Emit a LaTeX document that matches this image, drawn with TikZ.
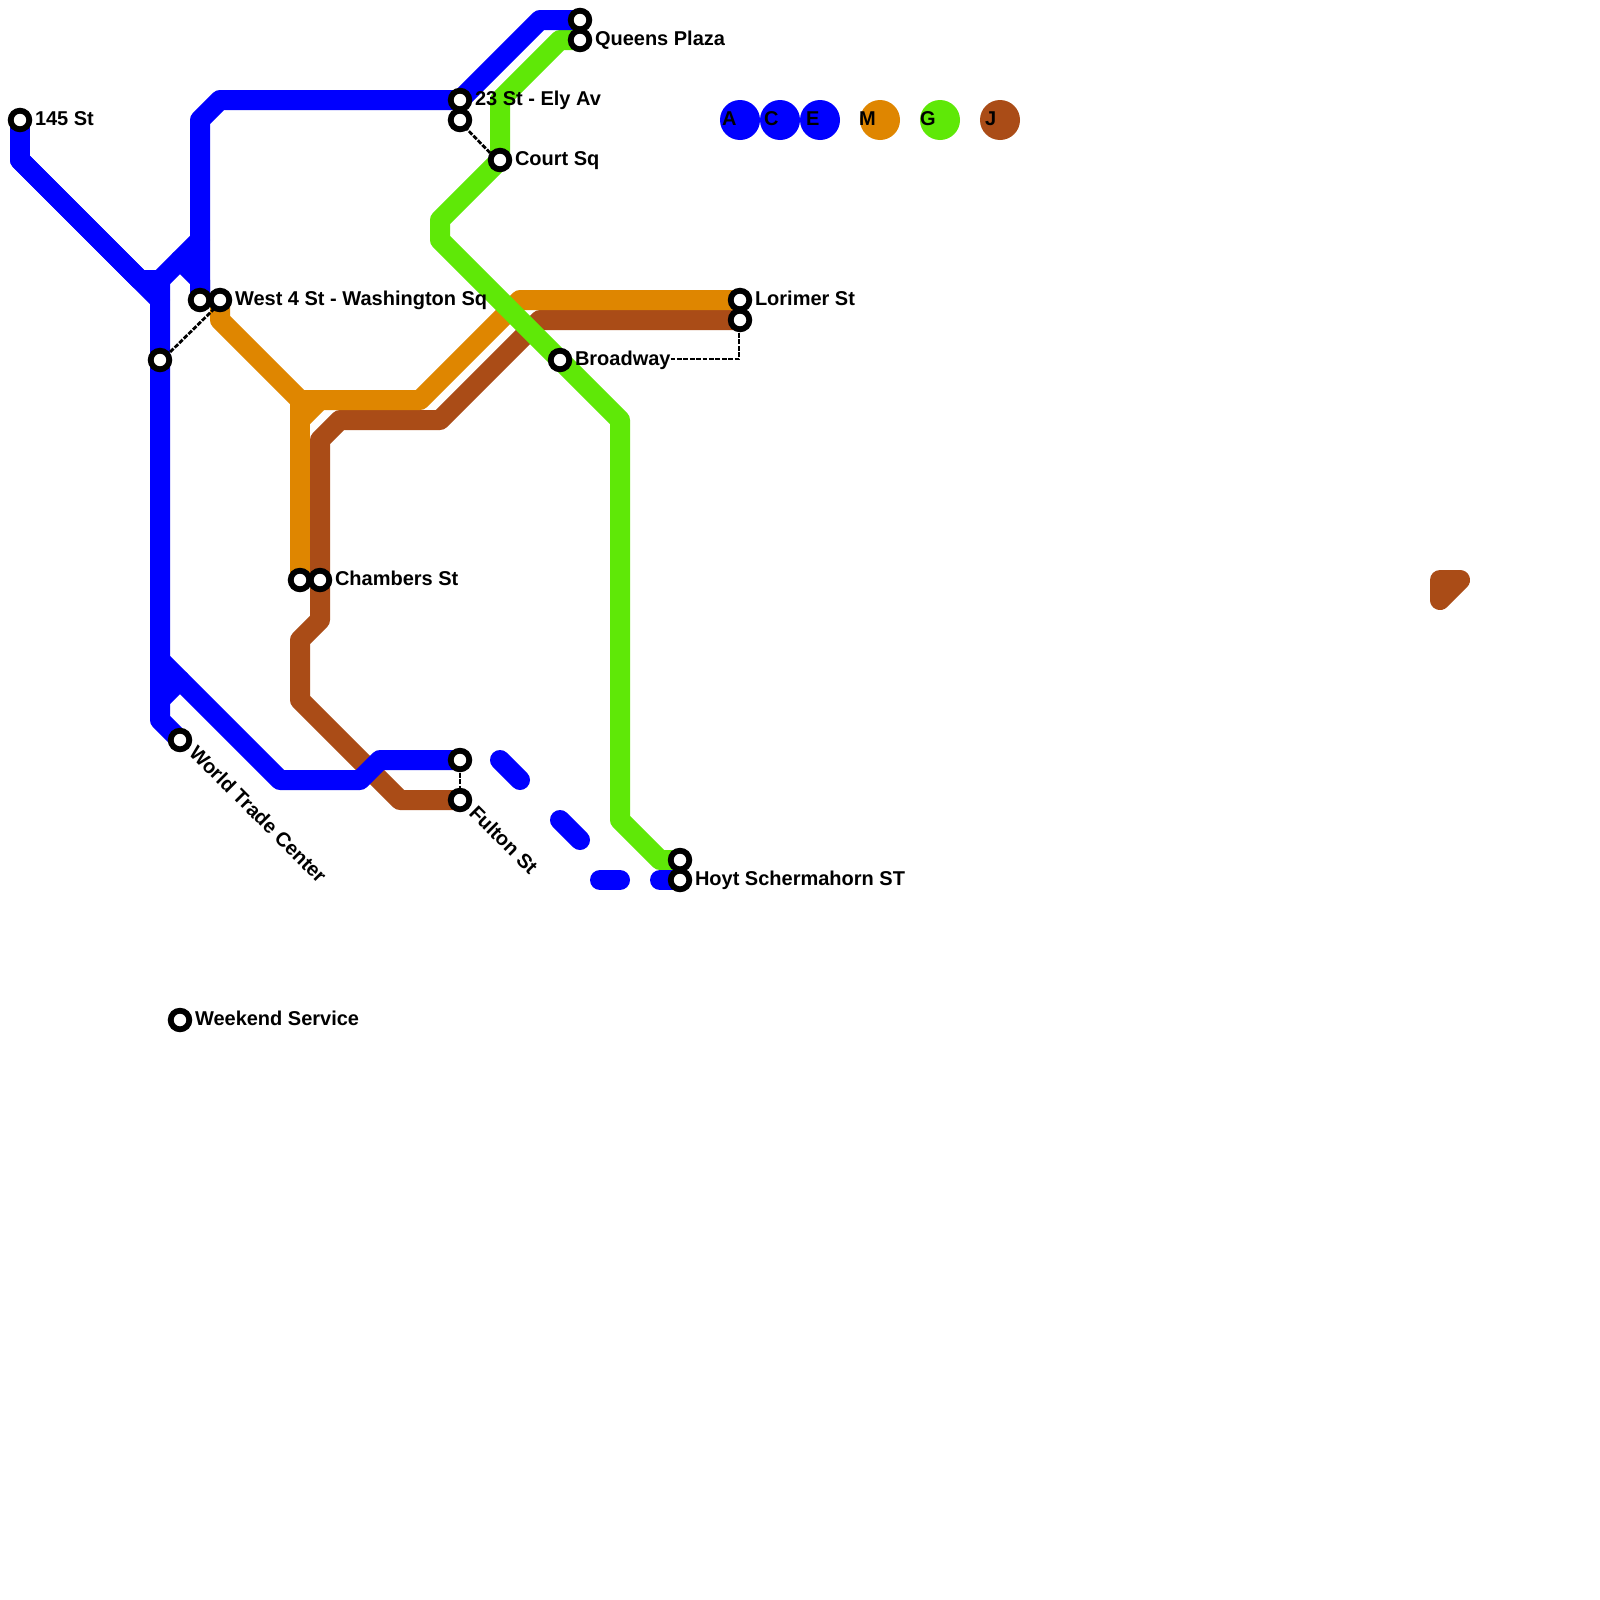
\documentclass[tikz,border=0pt]{standalone}
\usepackage{fontspec}
\setmainfont{Liberation Sans}[BoldFont={* Bold}]
\usetikzlibrary{backgrounds}
\definecolor{lineblue}{HTML}{0000FF}
\definecolor{lineorange}{HTML}{DF8600}
\definecolor{linegreen}{HTML}{5FE807}
\definecolor{linebrown}{HTML}{AA4C17}
\tikzset{
  x=0.05cm,y=-0.05cm,
  rail/.style={line width=1cm,line join=round,line cap=round},
  blueline/.style={rail,draw=lineblue},
  orangeline/.style={rail,draw=lineorange},
  greenline/.style={rail,draw=linegreen},
  brownline/.style={rail,draw=linebrown},
  xfer/.style={draw=black,line width=0.14cm,dash pattern=on 0.24cm off 0.08cm},
  stn/.style={circle,draw=black,fill=white,line width=0.29cm,minimum size=0.93cm,inner sep=0pt,outer sep=0pt},
  lbl/.style={anchor=base west,inner sep=0pt,outer sep=0pt,text=black,font=\fontsize{28.45}{34}\selectfont\bfseries},
  legend/.style={circle,minimum size=2cm,inner sep=0pt,outer sep=0pt},
}
\begin{document}
\begin{tikzpicture}
\useasboundingbox (0,0) rectangle (1600,1600);
% stations
\node[stn] (s145) at (20,120) {};
\node[stn] (w4a) at (200,300) {};
\node[stn] (w4b) at (220,300) {};
\node[stn] (w4c) at (160,360) {};
\node[stn] (wtc) at (180,740) {};
\node[stn] (chA) at (300,580) {};
\node[stn] (chB) at (320,580) {};
\node[stn] (e23a) at (460,100) {};
\node[stn] (e23b) at (460,120) {};
\node[stn] (court) at (500,160) {};
\node[stn] (qpA) at (580,20) {};
\node[stn] (qpB) at (580,40) {};
\node[stn] (lorA) at (740,300) {};
\node[stn] (lorB) at (740,320) {};
\node[stn] (brw) at (560,360) {};
\node[stn] (fulA) at (460,760) {};
\node[stn] (fulB) at (460,800) {};
\node[stn] (hoyA) at (680,860) {};
\node[stn] (hoyB) at (680,880) {};
\node[stn] (wknd) at (180,1020) {};
% labels
\node[lbl] (l145) at (35,125) {145 St};
\node[lbl] (lw4) at (235,305) {West 4 St - Washington Sq};
\node[lbl] (lch) at (335,585) {Chambers St};
\node[lbl] (l23) at (475,105) {23 St - Ely Av};
\node[lbl] (lcourt) at (515,165) {Court Sq};
\node[lbl] (lqp) at (595,45) {Queens Plaza};
\node[lbl] (llor) at (755,305) {Lorimer St};
\node[lbl] (lbrw) at (575,365) {Broadway};
\node[lbl] (lhoy) at (695,885) {Hoyt Schermahorn ST};
\node[lbl] (lwk) at (195,1025) {Weekend Service};
\node[lbl,rotate=-45] (lwtc) at (188,754) {World Trade Center};
\node[lbl,rotate=-45] (lful) at (468,814) {Fulton St};
% legend
\node[legend,fill=lineblue] (ca) at (740,120) {};
\node[legend,fill=lineblue] (cc) at (780,120) {};
\node[legend,fill=lineblue] (ce) at (820,120) {};
\node[legend,fill=lineorange] (cm) at (880,120) {};
\node[legend,fill=linegreen] (cg) at (940,120) {};
\node[legend,fill=linebrown] (cj) at (1000,120) {};
\node[lbl] (ta) at (722,125) {A};
\node[lbl] (tc) at (764,125) {C};
\node[lbl] (te) at (806,125) {E};
\node[lbl] (tm) at (859,125) {M};
\node[lbl] (tg) at (920,125) {G};
\node[lbl] (tj) at (985,125) {J};
\begin{pgfonlayer}{background}
\fill[white] (0,0) rectangle (1600,1600);
% brown
\draw[brownline] (lorB.center) -- (540,320) -- (440,420) -- (340,420) -- (320,440) -- (chB.center) -- (320,620) -- (300,640) -- (300,700) -- (400,800) -- (fulB.center);
\draw[brownline,fill=linebrown] (1440,580) -- (1460,580) -- (1440,600) -- cycle;
% orange
\draw[orangeline] (w4b.center) -- (220,320) -- (300,400) -- (420,400) -- (520,300) -- (lorA.center);
\draw[orangeline] (300,400) -- (chA.center);
\draw[orangeline] (300,420) -- (320,400);
% green
\draw[greenline] (qpB.center) -- (560,40) -- (500,100) -- (court.center) -- (440,220) -- (440,240) -- (620,420) -- (620,820) -- (660,860) -- (hoyA.center);
% blue
\draw[blueline] (s145.center) -- (20,160) -- (140,280) -- (160,280) -- (w4c.center) -- (160,720) -- (wtc.center);
\draw[blueline] (20,160) -- (160,300);
\draw[blueline] (160,280) -- (200,240);
\draw[blueline] (180,260) -- (200,280) -- (w4a.center);
\draw[blueline] (w4a.center) -- (200,120) -- (220,100) -- (452,100);
\draw[blueline] (e23a.center) -- (540,20) -- (qpA.center);
\draw[blueline] (160,660) -- (280,780) -- (360,780) -- (380,760) -- (fulA.center);
\draw[blueline] (160,700) -- (180,680);
\draw[blueline] (500,760) -- (520,780);
\draw[blueline] (560,820) -- (580,840);
\draw[blueline] (600,880) -- (620,880);
\draw[blueline] (660,880) -- (hoyB.center);
% transfers
\draw[xfer] ([xshift=0.05cm,yshift=-0.05cm]w4c.center) -- ([xshift=-0.05cm,yshift=-0.2cm]w4b.center);
\draw[xfer] ([yshift=-0.1cm]e23b.center) -- ([xshift=-0.1cm,yshift=-0.05cm]court.center);
\draw[xfer] (fulA.center) -- (fulB.center);
\draw[xfer] (lbrw.east |- 0,359) -- (739,359) -- (lorB.center -| 739,0);
\end{pgfonlayer}
\end{tikzpicture}
\end{document}
